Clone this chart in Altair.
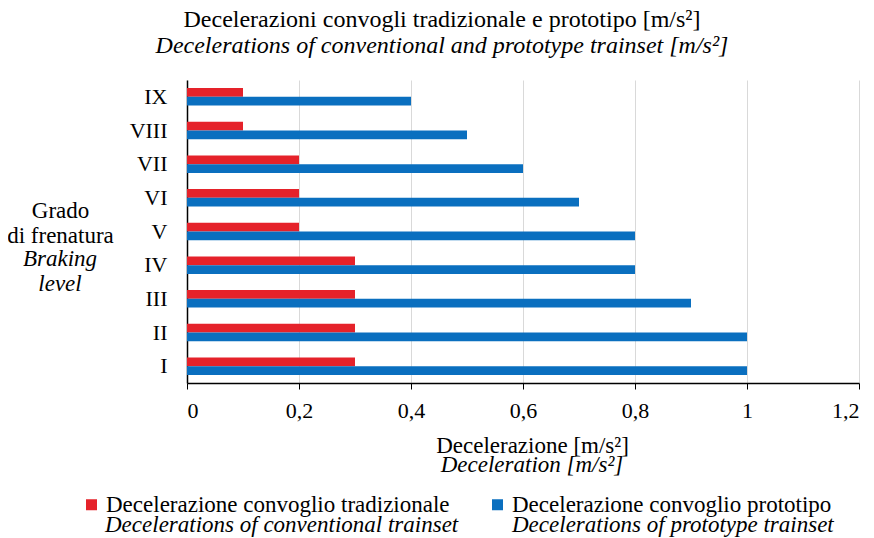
import altair as alt
import pandas as pd

# ---- data ----
levels = ["I", "II", "III", "IV", "V", "VI", "VII", "VIII", "IX"]
tradizionale = [0.3, 0.3, 0.3, 0.3, 0.2, 0.2, 0.2, 0.1, 0.1]
prototipo = [1.0, 1.0, 0.9, 0.8, 0.8, 0.7, 0.6, 0.5, 0.4]
series_names = ["Decelerazione convoglio tradizionale", "Decelerazione convoglio prototipo"]
series_en = ["Decelerations of conventional trainset", "Decelerations of prototype trainset"]
series_colors = ["#E5222A", "#0A6FBF"]
x_ticks = [0, 0.2, 0.4, 0.6, 0.8, 1.0, 1.2]

title_it = "Decelerazioni convogli tradizionale e prototipo [m/s²]"
title_en = "Decelerations of conventional and prototype trainset [m/s²]"
xtitle_it = "Decelerazione [m/s²]"
xtitle_en = "Deceleration [m/s²]"
ytitle_it = ["Grado", "di frenatura"]
ytitle_en = ["Braking", "level"]

FONT = "Liberation Serif"
FS = 23

rows = []
for lv, a, b in zip(levels, tradizionale, prototipo):
    rows.append({"level": lv, "serie": series_names[0], "value": a})
    rows.append({"level": lv, "serie": series_names[1], "value": b})
df = pd.DataFrame(rows)

W, H = 672, 303

bars = alt.Chart(df).mark_bar().encode(
    x=alt.X(
        "value:Q",
        scale=alt.Scale(domain=[0, 1.2], nice=False),
        axis=alt.Axis(
            values=x_ticks,
            labelExpr="replace(toString(datum.value), '.', ',')",
            labelFont=FONT, labelFontSize=22, labelColor="black",
            labelBaseline="alphabetic", labelPadding=28,
            tickColor="black", tickSize=6,
            domainColor="black", domainWidth=1.5,
            grid=True, gridColor="#d9d9d9", gridWidth=1,
            title=xtitle_it, titleFont=FONT, titleFontSize=FS,
            titleFontWeight="normal", titleColor="black",
            titleBaseline="alphabetic", titleAlign="center",
            titleX=345, titleY=69,
        ),
    ),
    y=alt.Y(
        "level:N",
        sort=levels[::-1],
        scale=alt.Scale(paddingInner=0.48, paddingOuter=0.24),
        axis=alt.Axis(
            ticks=False, labelFont=FONT, labelFontSize=22, labelColor="black",
            labelPadding=20, domainColor="black", domainWidth=1.5,
            title=ytitle_it, titleFont=FONT, titleFontSize=FS,
            titleFontWeight="normal", titleColor="black", titleAngle=0,
            titleAlign="center", titleBaseline="alphabetic",
            titleX=-127, titleY=137, titleLineHeight=25,
        ),
    ),
    yOffset=alt.YOffset("serie:N", sort=series_names, scale=alt.Scale(paddingInner=0)),
    color=alt.Color(
        "serie:N",
        scale=alt.Scale(domain=series_names, range=series_colors),
        legend=alt.Legend(
            orient="none", legendX=-107, legendY=413,
            direction="horizontal", columns=2, columnPadding=36,
            title=None, padding=0,
            symbolType="square", symbolSize=121, symbolStrokeWidth=0,
            labelFont=FONT, labelFontSize=FS, labelColor="black",
            labelOffset=3, labelLimit=600,
        ),
    ),
)

one = alt.Data(values=[{}])

def txt(s, x, y, align="center", italic=True):
    return alt.Chart(one).mark_text(
        font=FONT, fontSize=FS, fontStyle="italic" if italic else "normal",
        align=align, baseline="alphabetic", color="black",
    ).encode(x=alt.value(x), y=alt.value(y), text=alt.value(s))

layers = [
    bars,
    txt(ytitle_en[0], -127, 186),
    txt(ytitle_en[1], -127, 211),
    txt(xtitle_en, 345, 392),
    txt(series_en[0], -82, 452, align="left"),
    txt(series_en[1], 325, 452, align="left"),
]

chart = alt.layer(*layers).properties(
    width=W, height=H,
    padding={"left": 179, "top": 72, "right": 7, "bottom": 155},
    autosize=alt.AutoSizeParams(type="none"),
    title=alt.TitleParams(
        text=title_it, subtitle=title_en,
        font=FONT, fontSize=24, fontWeight="normal", color="black",
        subtitleFont=FONT, subtitleFontSize=24, subtitleFontStyle="italic",
        subtitleColor="black", subtitlePadding=2,
        anchor="middle", frame="group", dx=-81, offset=22,
    ),
).configure_view(stroke=None)

chart.save("out.html", embed_options={"renderer": "svg", "actions": False})
